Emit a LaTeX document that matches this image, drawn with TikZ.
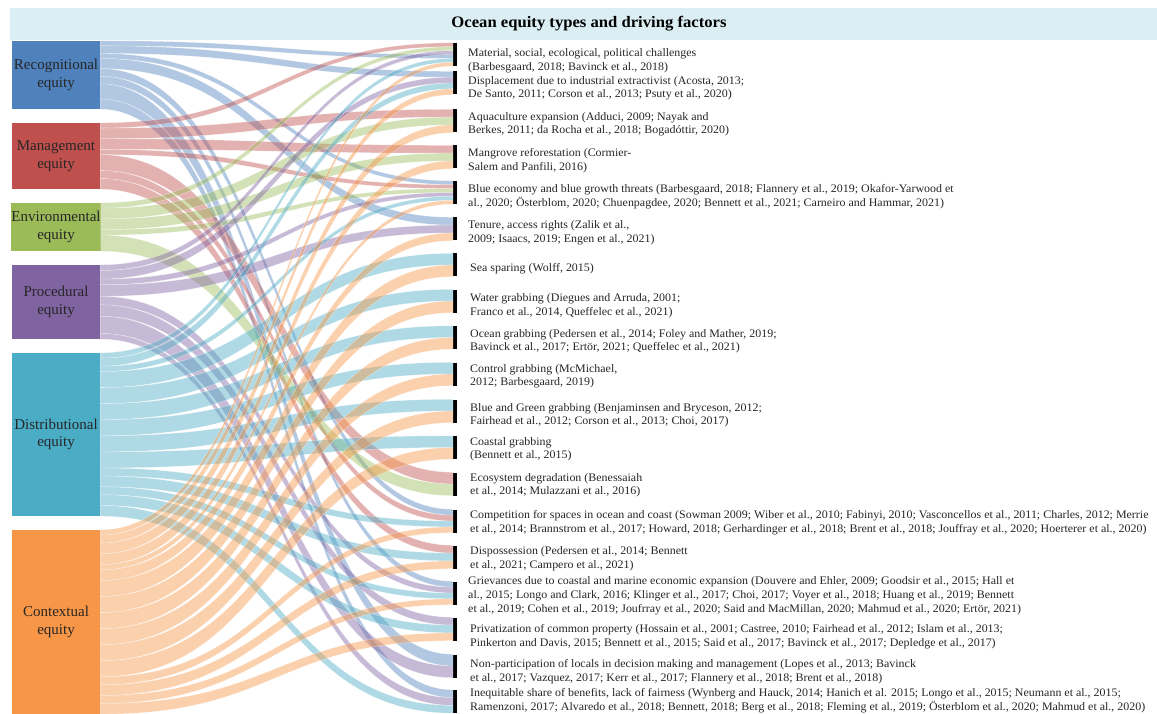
\documentclass[tikz,border=0pt]{standalone}
\usepackage{fontspec}
\setmainfont{Liberation Serif}
\newfontfamily\rtfont[FakeStretch=1.04]{Liberation Serif}
\newfontfamily\ttlfont[FakeStretch=1.04]{Liberation Serif}
\usetikzlibrary{calc}
\definecolor{rc}{HTML}{4F81BD}
\definecolor{mc}{HTML}{C0504D}
\definecolor{ec}{HTML}{9BBB59}
\definecolor{pc}{HTML}{8064A2}
\definecolor{dc}{HTML}{4BACC6}
\definecolor{cc}{HTML}{F79646}
\definecolor{titlebg}{HTML}{DAEEF3}
\definecolor{txt}{HTML}{262626}
\newcommand\sflow[7]{%
  \coordinate (fA1) at ($(#2.north east)!#3!(#2.south east)$);
  \coordinate (fA2) at ($(#2.north east)!#4!(#2.south east)$);
  \coordinate (fB1) at ($(#5.north west)!#6!(#5.south west)$);
  \coordinate (fB2) at ($(#5.north west)!#7!(#5.south west)$);
  \path[band, fill=#1] (fA1) .. controls (mid |- fA1) and (mid |- fB1) .. (fB1) -- (fB2) .. controls (mid |- fB2) and (mid |- fA2) .. (fA2) -- cycle;
}
\tikzset{
  ebox/.style={rectangle, inner sep=0pt, minimum width=88pt, text=txt, align=center, font=\fontsize{15}{17.5}\selectfont},
  barbox/.style={rectangle, fill=black, inner sep=0pt, minimum width=3.5pt, minimum height=23pt},
  rtext/.style={anchor=west, align=left, inner sep=0pt, text=txt, font=\rtfont\fontsize{11.5}{13.8}\selectfont},
  band/.style={fill opacity=0.44, draw=white, draw opacity=0.6, line width=0.3pt},
}
\begin{document}
\begin{tikzpicture}[x=1pt, y=-1pt]
\useasboundingbox (0,0) rectangle (1157,714);
\fill[white] (0,0) rectangle (1157,714);
% title
\node[fill=titlebg, minimum width=1147pt, minimum height=32pt, anchor=north west, inner sep=0pt] (titlebar) at (10,8) {};
\node[font=\ttlfont\fontsize{16}{18}\selectfont\bfseries, text=black, inner sep=0pt] (title) at (589,24) {Ocean equity types and driving factors};
% equity boxes
\node[ebox, fill=rc, minimum height=68pt] (R) at (56,75) {Recognitional\\equity};
\node[ebox, fill=mc, minimum height=66pt] (M) at (56,156) {Management\\equity};
\node[ebox, fill=ec, minimum height=48pt] (E) at (56,227) {Environmental\\equity};
\node[ebox, fill=pc, minimum height=74pt] (P) at (56,302) {Procedural\\equity};
\node[ebox, fill=dc, minimum height=163pt] (D) at (56,434.5) {Distributional\\equity};
\node[ebox, fill=cc, minimum height=184pt] (C) at (56,622) {Contextual\\equity};
% bars
\node[barbox] (b1) at (455,54.5) {};
\node[barbox] (b2) at (455,83) {};
\node[barbox] (b3) at (455,121) {};
\node[barbox] (b4) at (455,157) {};
\node[barbox] (b5) at (455,192.5) {};
\node[barbox] (b6) at (455,229) {};
\node[barbox] (b7) at (455,265) {};
\node[barbox] (b8) at (455,301) {};
\node[barbox] (b9) at (455,337.5) {};
\node[barbox] (b10) at (455,374) {};
\node[barbox] (b11) at (455,411) {};
\node[barbox] (b12) at (455,447.5) {};
\node[barbox] (b13) at (455,484) {};
\node[barbox] (b14) at (455,521) {};
\node[barbox] (b15) at (455,557) {};
\node[barbox] (b16) at (455,593) {};
\node[barbox] (b17) at (455,629) {};
\node[barbox] (b18) at (455,666) {};
\node[barbox] (b19) at (455,701.5) {};
\coordinate (mid) at (276.5,0);
% flows: Recognitional
\sflow{rc}{R}{0}{.074}{b1}{.5}{.667}
\sflow{rc}{R}{.074}{.185}{b2}{0}{.25}
\sflow{rc}{R}{.185}{.259}{b5}{0}{.167}
\sflow{rc}{R}{.259}{.407}{b6}{0}{.333}
\sflow{rc}{R}{.407}{.519}{b14}{0}{.25}
\sflow{rc}{R}{.519}{.630}{b16}{0}{.25}
\sflow{rc}{R}{.630}{.852}{b18}{0}{.5}
\sflow{rc}{R}{.852}{1}{b19}{0}{.333}
% Management
\sflow{mc}{M}{0}{.08}{b1}{0}{.167}
\sflow{mc}{M}{.08}{.24}{b3}{0}{.333}
\sflow{mc}{M}{.24}{.40}{b4}{0}{.333}
\sflow{mc}{M}{.40}{.48}{b5}{.167}{.333}
\sflow{mc}{M}{.48}{.72}{b13}{0}{.5}
\sflow{mc}{M}{.72}{.84}{b14}{.25}{.5}
\sflow{mc}{M}{.84}{1}{b15}{0}{.333}
% Environmental
\sflow{ec}{E}{0}{.111}{b1}{.167}{.333}
\sflow{ec}{E}{.111}{.333}{b3}{.333}{.667}
\sflow{ec}{E}{.333}{.556}{b4}{.333}{.667}
\sflow{ec}{E}{.556}{.667}{b5}{.333}{.5}
\sflow{ec}{E}{.667}{1}{b13}{.5}{1}
% Procedural
\sflow{pc}{P}{0}{.077}{b1}{.333}{.5}
\sflow{pc}{P}{.077}{.192}{b2}{.25}{.5}
\sflow{pc}{P}{.192}{.269}{b5}{.5}{.667}
\sflow{pc}{P}{.269}{.423}{b6}{.333}{.667}
\sflow{pc}{P}{.423}{.538}{b16}{.25}{.5}
\sflow{pc}{P}{.538}{.692}{b17}{0}{.333}
\sflow{pc}{P}{.692}{.923}{b18}{.5}{1}
\sflow{pc}{P}{.923}{1}{b19}{.333}{.667}
% Distributional
\sflow{dc}{D}{0}{.0328}{b1}{.667}{.833}
\sflow{dc}{D}{.0328}{.082}{b2}{.5}{.75}
\sflow{dc}{D}{.082}{.1148}{b5}{.667}{.833}
\sflow{dc}{D}{.1148}{.2131}{b7}{0}{.5}
\sflow{dc}{D}{.2131}{.3115}{b8}{0}{.5}
\sflow{dc}{D}{.3115}{.4098}{b9}{0}{.5}
\sflow{dc}{D}{.4098}{.5082}{b10}{0}{.5}
\sflow{dc}{D}{.5082}{.6066}{b11}{0}{.5}
\sflow{dc}{D}{.6066}{.7049}{b12}{0}{.5}
\sflow{dc}{D}{.7049}{.7541}{b14}{.5}{.75}
\sflow{dc}{D}{.7541}{.8197}{b15}{.333}{.667}
\sflow{dc}{D}{.8197}{.8689}{b16}{.5}{.75}
\sflow{dc}{D}{.8689}{.9344}{b17}{.333}{.667}
\sflow{dc}{D}{.9344}{1}{b19}{.667}{1}
% Contextual
\sflow{cc}{C}{0}{.029}{b1}{.833}{1}
\sflow{cc}{C}{.029}{.0725}{b2}{.75}{1}
\sflow{cc}{C}{.0725}{.1304}{b3}{.667}{1}
\sflow{cc}{C}{.1304}{.1884}{b4}{.667}{1}
\sflow{cc}{C}{.1884}{.2174}{b5}{.833}{1}
\sflow{cc}{C}{.2174}{.2754}{b6}{.667}{1}
\sflow{cc}{C}{.2754}{.3623}{b7}{.5}{1}
\sflow{cc}{C}{.3623}{.4493}{b8}{.5}{1}
\sflow{cc}{C}{.4493}{.5362}{b9}{.5}{1}
\sflow{cc}{C}{.5362}{.6232}{b10}{.5}{1}
\sflow{cc}{C}{.6232}{.7101}{b11}{.5}{1}
\sflow{cc}{C}{.7101}{.7971}{b12}{.5}{1}
\sflow{cc}{C}{.7971}{.8406}{b14}{.75}{1}
\sflow{cc}{C}{.8406}{.8986}{b15}{.667}{1}
\sflow{cc}{C}{.8986}{.942}{b16}{.75}{1}
\sflow{cc}{C}{.942}{1}{b17}{.667}{1}
% texts
\node[rtext] (t1) at (468,61) {Material, social, ecological, political challenges\\(Barbesgaard, 2018; Bavinck et al., 2018)};
\node[rtext] (t2) at (468,88.3) {Displacement due to industrial extractivist (Acosta, 2013;\\De Santo, 2011; Corson et al., 2013; Psuty et al., 2020)};
\node[rtext] (t3) at (468,124.3) {Aquaculture expansion (Adduci, 2009; Nayak and\\Berkes, 2011; da Rocha et al., 2018; Bogadóttir, 2020)};
\node[rtext] (t4) at (468,160.8) {Mangrove reforestation (Cormier-\\Salem and Panfili, 2016)};
\node[rtext] (t5) at (468,196.3) {Blue economy and blue growth threats (Barbesgaard, 2018; Flannery et al., 2019; Okafor-Yarwood et\\al., 2020; Österblom, 2020; Chuenpagdee, 2020; Bennett et al., 2021; Carneiro and Hammar, 2021)};
\node[rtext] (t6) at (468,232.5) {Tenure, access rights (Zalik et al.,\\2009; Isaacs, 2019; Engen et al., 2021)};
\node[rtext] (t7) at (470,269) {Sea sparing (Wolff, 2015)};
\node[rtext] (t8) at (470,306) {Water grabbing (Diegues and Arruda, 2001;\\Franco et al., 2014, Queffelec et al., 2021)};
\node[rtext] (t9) at (470,341.3) {Ocean grabbing (Pedersen et al., 2014; Foley and Mather, 2019;\\Bavinck et al., 2017; Ertör, 2021; Queffelec et al., 2021)};
\node[rtext] (t10) at (470,376.3) {Control grabbing (McMichael,\\2012; Barbesgaard, 2019)};
\node[rtext] (t11) at (470,415.3) {Blue and Green grabbing (Benjaminsen and Bryceson, 2012;\\Fairhead et al., 2012; Corson et al., 2013; Choi, 2017)};
\node[rtext] (t12) at (470,449.3) {Coastal grabbing\\(Bennett et al., 2015)};
\node[rtext] (t13) at (470,485.2) {Ecosystem degradation (Benessaiah\\et al., 2014; Mulazzani et al., 2016)};
\node[rtext] (t14) at (470,523) {Competition for spaces in ocean and coast (Sowman 2009; Wiber et al., 2010; Fabinyi, 2010; Vasconcellos et al., 2011; Charles, 2012; Merrie\\et al., 2014; Brannstrom et al., 2017; Howard, 2018; Gerhardinger et al., 2018; Brent et al., 2018; Jouffray et al., 2020; Hoerterer et al., 2020)};
\node[rtext] (t15) at (470,558.5) {Dispossession (Pedersen et al., 2014; Bennett\\et al., 2021; Campero et al., 2021)};
\node[rtext] (t16) at (468,596) {Grievances due to coastal and marine economic expansion (Douvere and Ehler, 2009; Goodsir et al., 2015; Hall et\\al., 2015; Longo and Clark, 2016; Klinger et al., 2017; Choi, 2017; Voyer et al., 2018; Huang et al., 2019; Bennett\\et al., 2019; Cohen et al., 2019; Joufrray et al., 2020; Said and MacMillan, 2020; Mahmud et al., 2020; Ertör, 2021)};
\node[rtext] (t17) at (470,636.3) {Privatization of common property (Hossain et al., 2001; Castree, 2010; Fairhead et al., 2012; Islam et al., 2013;\\Pinkerton and Davis, 2015; Bennett et al., 2015; Said et al., 2017; Bavinck et al., 2017; Depledge et al., 2017)};
\node[rtext] (t18) at (470,671.7) {Non-participation of locals in decision making and management (Lopes et al., 2013; Bavinck\\et al., 2017; Vazquez, 2017; Kerr et al., 2017; Flannery et al., 2018; Brent et al., 2018)};
\node[rtext] (t19) at (470,701) {Inequitable share of benefits, lack of fairness (Wynberg and Hauck, 2014; Hanich et al. 2015; Longo et al., 2015; Neumann et al., 2015;\\Ramenzoni, 2017; Alvaredo et al., 2018; Bennett, 2018; Berg et al., 2018; Fleming et al., 2019; Österblom et al., 2020; Mahmud et al., 2020)};
\end{tikzpicture}
\end{document}
